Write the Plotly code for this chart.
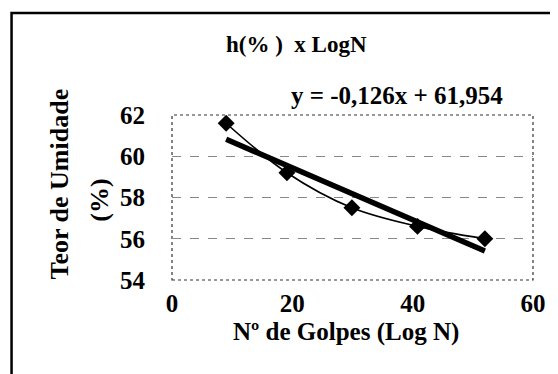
import plotly.graph_objects as go

golpes = [9.0, 19.1, 29.9, 40.8, 52.0]
umidade = [61.6, 59.2, 57.5, 56.6, 56.0]
trend_slope = -0.126
trend_intercept = 61.954
x_ticks = [0, 20, 40, 60]
y_ticks = [54, 56, 58, 60, 62]

trend_x = [min(golpes), max(golpes)]
trend_y = [trend_slope * v + trend_intercept for v in trend_x]

FONT = "Liberation Serif"
OFF = 8  # page body margin offset
W, H = 558 - OFF, 374 - OFF
L, R, T, B = 172 - OFF, 25 - OFF, 115 - OFF, 102 - OFF
PW, PH = W - L - R, H - T - B


def px(xp):
    return (xp - OFF - L) / PW


def py(yp):
    return 1 - (yp - OFF - T) / PH


fig = go.Figure()
fig.add_trace(go.Scatter(
    x=trend_x, y=trend_y, mode="lines",
    line=dict(color="black", width=5.5), showlegend=False, hoverinfo="skip"))
fig.add_trace(go.Scatter(
    x=golpes, y=umidade, mode="lines+markers",
    line=dict(color="black", width=1.6, shape="spline", smoothing=1),
    marker=dict(symbol="diamond", size=13, color="black"),
    showlegend=False))

fig.update_layout(
    width=W, height=H,
    margin=dict(l=L, r=R, t=T, b=B),
    paper_bgcolor="white", plot_bgcolor="white",
    font=dict(family=FONT, color="black", size=18),
    xaxis=dict(range=[0, 60], tickvals=x_ticks, showgrid=False, zeroline=False,
               showline=False, ticks="", ticklabelstandoff=6,
               tickfont=dict(size=25, family=FONT, weight="bold", color="black")),
    yaxis=dict(range=[54, 62], tickvals=y_ticks, showgrid=True, gridcolor="#888",
               griddash="dash", gridwidth=1, zeroline=False, showline=False,
               ticks="", ticklabelstandoff=26,
               tickfont=dict(size=25, family=FONT, weight="bold", color="black")),
)

# dotted plot-area border
fig.add_shape(type="rect", xref="paper", yref="paper", x0=0, x1=1, y0=0, y1=1,
              line=dict(color="#333", width=1.2, dash="dot"), layer="below")
# outer chart frame
fig.add_shape(type="rect", xref="paper", yref="paper",
              x0=px(8), x1=px(600), y0=py(420), y1=py(13),
              line=dict(color="black", width=2.5))

ann_font = dict(family=FONT, color="black")
fig.add_annotation(text="<b>h(% )  x LogN</b>", xref="paper", yref="paper",
                   x=px(299), y=py(45), xanchor="center", yanchor="middle",
                   showarrow=False, font=dict(size=23, **ann_font))
fig.add_annotation(text="<b>y = -0,126x + 61,954</b>", xref="paper", yref="paper",
                   x=px(512), xanchor="right", y=py(96), yanchor="middle",
                   showarrow=False, font=dict(size=25, **ann_font))
fig.add_annotation(text="<b>Nº de Golpes (Log N)</b>", xref="paper", yref="paper",
                   x=px(350), y=py(332), xanchor="center", yanchor="middle",
                   showarrow=False, font=dict(size=25, **ann_font))
fig.add_annotation(text="<b>Teor de Umidade</b>", xref="paper", yref="paper",
                   x=px(56), y=py(184), xanchor="center", yanchor="middle",
                   textangle=-90, showarrow=False, font=dict(size=26, **ann_font))
fig.add_annotation(text="<b>(%)</b>", xref="paper", yref="paper",
                   x=px(97), y=py(200), xanchor="center", yanchor="middle",
                   textangle=-90, showarrow=False, font=dict(size=26, **ann_font))

fig.write_html("out.html")
